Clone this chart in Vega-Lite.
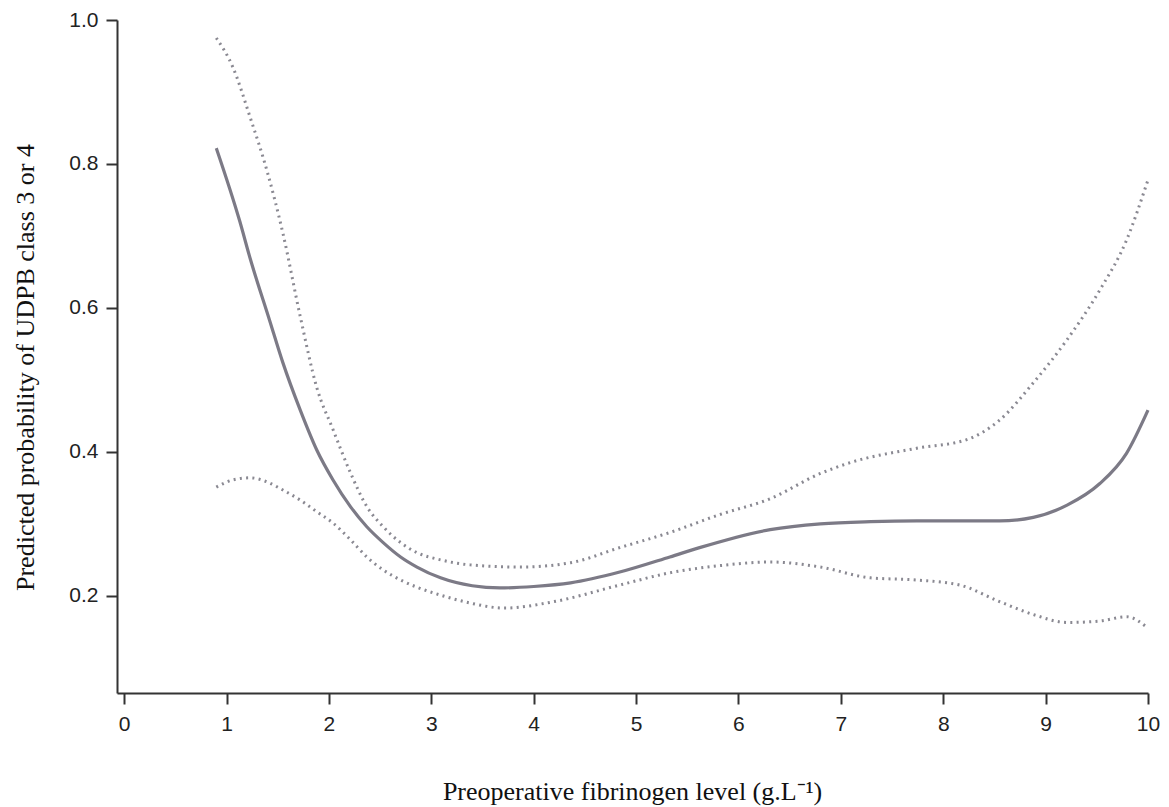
{
  "$schema": "https://vega.github.io/schema/vega-lite/v6.json",
  "autosize": {"type": "none"},
  "width": 1031,
  "height": 673,
  "padding": {"left": 117, "top": 20, "right": 21, "bottom": 114},
  "background": "white",
  "config": {"view": {"stroke": null}},
  "datasets": {
    "fit": [
      {"x": 0.90, "y": 0.822}, {"x": 1.13, "y": 0.720}, {"x": 1.23, "y": 0.669}, {"x": 1.42, "y": 0.583},
      {"x": 1.55, "y": 0.524}, {"x": 1.72, "y": 0.458}, {"x": 1.88, "y": 0.403}, {"x": 2.04, "y": 0.361},
      {"x": 2.21, "y": 0.324}, {"x": 2.37, "y": 0.296}, {"x": 2.53, "y": 0.274}, {"x": 2.70, "y": 0.254},
      {"x": 2.86, "y": 0.240}, {"x": 3.09, "y": 0.225}, {"x": 3.40, "y": 0.214}, {"x": 3.67, "y": 0.211},
      {"x": 4.00, "y": 0.213}, {"x": 4.36, "y": 0.218}, {"x": 4.84, "y": 0.233}, {"x": 5.33, "y": 0.254},
      {"x": 5.62, "y": 0.267}, {"x": 6.31, "y": 0.292}, {"x": 6.80, "y": 0.300}, {"x": 7.29, "y": 0.303},
      {"x": 7.74, "y": 0.304}, {"x": 8.07, "y": 0.304}, {"x": 8.55, "y": 0.304}, {"x": 8.88, "y": 0.309},
      {"x": 9.21, "y": 0.326}, {"x": 9.53, "y": 0.356}, {"x": 9.79, "y": 0.398}, {"x": 10.0, "y": 0.458}
    ],
    "bounds": [
      {"band": "upper", "x": 0.90, "y": 0.975}, {"band": "upper", "x": 1.06, "y": 0.935}, {"band": "upper", "x": 1.23, "y": 0.865},
      {"band": "upper", "x": 1.40, "y": 0.788}, {"band": "upper", "x": 1.55, "y": 0.704}, {"band": "upper", "x": 1.72, "y": 0.588},
      {"band": "upper", "x": 1.88, "y": 0.490}, {"band": "upper", "x": 2.04, "y": 0.431}, {"band": "upper", "x": 2.21, "y": 0.371},
      {"band": "upper", "x": 2.37, "y": 0.324}, {"band": "upper", "x": 2.53, "y": 0.296}, {"band": "upper", "x": 2.70, "y": 0.274},
      {"band": "upper", "x": 2.86, "y": 0.260}, {"band": "upper", "x": 3.09, "y": 0.250}, {"band": "upper", "x": 3.38, "y": 0.243},
      {"band": "upper", "x": 3.87, "y": 0.240}, {"band": "upper", "x": 4.36, "y": 0.246}, {"band": "upper", "x": 4.84, "y": 0.267},
      {"band": "upper", "x": 5.33, "y": 0.288}, {"band": "upper", "x": 5.82, "y": 0.313}, {"band": "upper", "x": 6.31, "y": 0.335},
      {"band": "upper", "x": 6.80, "y": 0.370}, {"band": "upper", "x": 7.09, "y": 0.385}, {"band": "upper", "x": 7.74, "y": 0.405},
      {"band": "upper", "x": 8.23, "y": 0.417}, {"band": "upper", "x": 8.55, "y": 0.444}, {"band": "upper", "x": 8.88, "y": 0.496},
      {"band": "upper", "x": 9.21, "y": 0.556}, {"band": "upper", "x": 9.53, "y": 0.625}, {"band": "upper", "x": 9.79, "y": 0.694},
      {"band": "upper", "x": 10.0, "y": 0.778},
      {"band": "lower", "x": 0.90, "y": 0.351}, {"band": "lower", "x": 1.06, "y": 0.361}, {"band": "lower", "x": 1.23, "y": 0.364},
      {"band": "lower", "x": 1.40, "y": 0.358}, {"band": "lower", "x": 1.55, "y": 0.347}, {"band": "lower", "x": 1.72, "y": 0.333},
      {"band": "lower", "x": 1.88, "y": 0.317}, {"band": "lower", "x": 2.04, "y": 0.301}, {"band": "lower", "x": 2.21, "y": 0.278},
      {"band": "lower", "x": 2.37, "y": 0.254}, {"band": "lower", "x": 2.53, "y": 0.236}, {"band": "lower", "x": 2.70, "y": 0.222},
      {"band": "lower", "x": 2.86, "y": 0.212}, {"band": "lower", "x": 3.09, "y": 0.201}, {"band": "lower", "x": 3.38, "y": 0.190},
      {"band": "lower", "x": 3.71, "y": 0.183}, {"band": "lower", "x": 4.20, "y": 0.192}, {"band": "lower", "x": 4.84, "y": 0.215},
      {"band": "lower", "x": 5.33, "y": 0.232}, {"band": "lower", "x": 5.82, "y": 0.242}, {"band": "lower", "x": 6.31, "y": 0.247},
      {"band": "lower", "x": 6.80, "y": 0.240}, {"band": "lower", "x": 7.29, "y": 0.225}, {"band": "lower", "x": 7.74, "y": 0.222},
      {"band": "lower", "x": 8.16, "y": 0.215}, {"band": "lower", "x": 8.55, "y": 0.192}, {"band": "lower", "x": 8.88, "y": 0.174},
      {"band": "lower", "x": 9.21, "y": 0.163}, {"band": "lower", "x": 9.53, "y": 0.165}, {"band": "lower", "x": 9.79, "y": 0.171},
      {"band": "lower", "x": 10.0, "y": 0.155}
    ]
  },
  "encoding": {
    "x": {
      "field": "x", "type": "quantitative",
      "scale": {"domain": [-0.07, 10], "nice": false, "zero": false},
      "axis": {
        "title": "Preoperative fibrinogen level (g.L⁻¹)",
        "values": [0, 1, 2, 3, 4, 5, 6, 7, 8, 9, 10],
        "format": "d",
        "grid": false,
        "domainColor": "#333333", "domainWidth": 2,
        "tickColor": "#333333", "tickWidth": 2, "tickSize": 11,
        "labelFont": "Liberation Sans", "labelFontSize": 21, "labelColor": "#222222",
        "labelPadding": 9, "labelFlush": false,
        "titleFont": "Liberation Serif", "titleFontSize": 26, "titleFontWeight": "normal", "titleColor": "#111111",
        "titleBaseline": "alphabetic", "titleY": 106, "titleX": 515
      }
    },
    "y": {
      "field": "y", "type": "quantitative",
      "scale": {"domain": [0.065, 1.0], "nice": false, "zero": false},
      "axis": {
        "title": "Predicted probability of UDPB class 3 or 4",
        "values": [0.2, 0.4, 0.6, 0.8, 1.0],
        "format": ".1f",
        "grid": false,
        "domainColor": "#333333", "domainWidth": 2,
        "tickColor": "#333333", "tickWidth": 2, "tickSize": 11,
        "labelFont": "Liberation Sans", "labelFontSize": 21, "labelColor": "#222222",
        "labelPadding": 8, "labelFlush": false,
        "titleFont": "Liberation Serif", "titleFontSize": 26, "titleFontWeight": "normal", "titleColor": "#111111",
        "titleAngle": -90, "titleBaseline": "alphabetic", "titleAlign": "center",
        "titleX": -84, "titleY": 347
      }
    }
  },
  "layer": [
    {
      "data": {"name": "bounds"},
      "mark": {"type": "line", "interpolate": "monotone", "color": "#8a8992", "strokeWidth": 3, "strokeDash": [2, 4.3]},
      "encoding": {"detail": {"field": "band", "type": "nominal"}}
    },
    {
      "data": {"name": "fit"},
      "mark": {"type": "line", "interpolate": "monotone", "color": "#7c7a86", "strokeWidth": 3.2},
      "encoding": {}
    }
  ]
}
